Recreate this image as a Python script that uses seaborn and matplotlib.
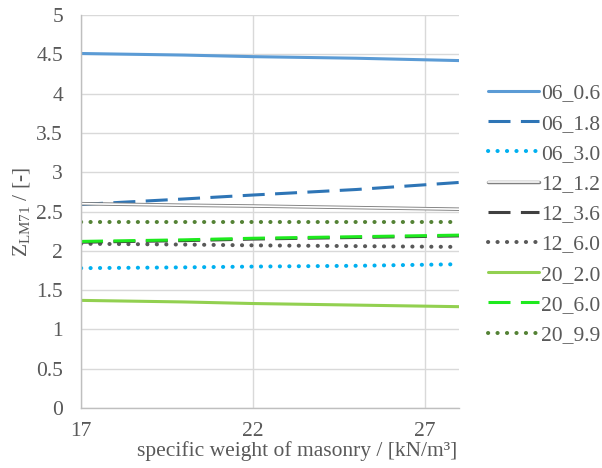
import numpy as np
import pandas as pd
import seaborn as sns
import matplotlib
matplotlib.use("Agg")
import matplotlib.pyplot as plt
import matplotlib.patheffects as pe

x_vals = [17, 20, 22, 25, 28]
s_06_06 = [4.51, 4.49, 4.47, 4.45, 4.42]
s_06_18 = [2.59, 2.66, 2.71, 2.78, 2.87]
s_06_30 = [1.78, 1.79, 1.80, 1.81, 1.83]
s_12_12 = [2.60, 2.58, 2.57, 2.55, 2.53]
s_12_36 = [2.11, 2.13, 2.15, 2.17, 2.19]
s_12_60 = [2.09, 2.08, 2.07, 2.06, 2.05]
s_20_20 = [1.37, 1.35, 1.33, 1.31, 1.29]
s_20_60 = [2.12, 2.14, 2.16, 2.18, 2.20]
s_20_99 = [2.37, 2.37, 2.37, 2.37, 2.37]
labels = ["06_0.6", "06_1.8", "06_3.0", "12_1.2", "12_3.6", "12_6.0",
          "20_2.0", "20_6.0", "20_9.9"]
series = [s_06_06, s_06_18, s_06_30, s_12_12, s_12_36, s_12_60,
          s_20_20, s_20_60, s_20_99]

styles = {
    "06_0.6": dict(color="#5B9BD5", ls="solid"),
    "06_1.8": dict(color="#2E75B6", ls="dash"),
    "06_3.0": dict(color="#00B0F0", ls="dot"),
    "12_1.2": dict(color="white", ls="double"),
    "12_3.6": dict(color="#404040", ls="dash"),
    "12_6.0": dict(color="#595959", ls="dot"),
    "20_2.0": dict(color="#92D050", ls="solid"),
    "20_6.0": dict(color="#1EEA1E", ls="dash"),
    "20_9.9": dict(color="#548235", ls="dot"),
}

sns.set_theme(style="white")
plt.rcParams["font.family"] = ["Liberation Serif", "DejaVu Serif"]
plt.rcParams["mathtext.fontset"] = "custom"
plt.rcParams["mathtext.rm"] = "Liberation Serif"
plt.rcParams["mathtext.it"] = "Liberation Serif"

FS = 15.5
TXT = "#595959"

fig = plt.figure(figsize=(6.02, 4.68), dpi=100)
ax = fig.add_axes([0.1346, 0.128, 0.628, 0.84])

draw_order = ["06_0.6", "06_1.8", "06_3.0", "12_1.2", "12_6.0", "12_3.6",
              "20_2.0", "20_6.0", "20_9.9"]
lines = {}
for name in draw_order:
    vals = series[labels.index(name)]
    df = pd.DataFrame({"x": x_vals, "y": vals})
    st = styles[name]
    kw = dict(color=st["color"], linewidth=2.2)
    if st["ls"] == "dash":
        kw.update(linestyle=(0, (7.2, 3.4)), linewidth=2.2)
    elif st["ls"] == "dot":
        kw.update(linestyle=(0, (0.05, 2.3)), dash_capstyle="round", linewidth=2.9)
    elif st["ls"] == "double":
        kw.update(linewidth=1.2)
    before = len(ax.lines)
    sns.lineplot(data=df, x="x", y="y", ax=ax, label=name, **kw)
    ln = ax.lines[before]
    if st["ls"] == "double":
        ln.set_path_effects([pe.Stroke(linewidth=2.5, foreground="#7F7F7F"), pe.Normal()])
    lines[name] = ln

ax.set_xlim(17, 28)
ax.set_ylim(0, 5)
ax.set_xticks([17, 22, 27])
yt = np.arange(0, 5.01, 0.5)
ax.set_yticks(yt)
ax.set_yticklabels([f"{v:g}" for v in yt])
ax.grid(True, color="#D9D9D9", linewidth=1.0)
for s in ["top", "right"]:
    ax.spines[s].set_visible(False)
for s in ["left", "bottom"]:
    ax.spines[s].set_color("#BFBFBF")
    ax.spines[s].set_linewidth(1.0)
ax.tick_params(axis="both", length=0, labelsize=FS, colors=TXT)
ax.tick_params(axis="x", pad=10)
ax.tick_params(axis="y", pad=13)
ax.set_xlabel("specific weight of masonry / [kN/m³]", fontsize=FS, color=TXT, labelpad=-2)
ax.xaxis.set_label_coords(0.572, -0.085)
ax.set_ylabel(r"Z$_{\mathrm{LM71}}$ / [-]", fontsize=FS, color=TXT, labelpad=3)

if ax.get_legend():
    ax.get_legend().remove()
leg_handles = [lines[n] for n in labels]
leg = fig.legend(leg_handles, labels, loc="upper left", bbox_to_anchor=(0.797, 0.840),
                 frameon=False, fontsize=FS, handlelength=2.35, labelspacing=0.47,
                 handletextpad=0.1, borderaxespad=0)
for t in leg.get_texts():
    t.set_color(TXT)

fig.savefig("out.png", dpi=100)
